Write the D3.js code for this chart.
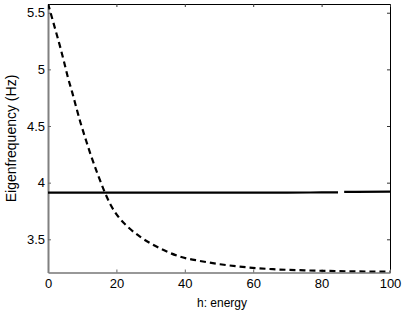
<!DOCTYPE html>
<html>
<head>
<meta charset="utf-8">
<script src="https://cdn.jsdelivr.net/npm/d3@7"></script>
<style>
  html, body { margin: 0; padding: 0; background: #fff; }
  svg { display: block; }
  text { font-family: "Liberation Sans", Arial, Helvetica, sans-serif; }
</style>
</head>
<body>
<svg id="chart" width="407" height="311"></svg>
<script>
// ---- data ----
const xTicks = [0, 20, 40, 60, 80, 100];
const yTicks = [3.5, 4, 4.5, 5, 5.5];
const yTickLabels = ["3.5", "4", "4.5", "5", "5.5"];
const xLabel = "h: energy";
const yLabel = "Eigenfrequency (Hz)";

// dashed curve (h, frequency)
const dashedH = [0, 2.25, 3.5, 4.7, 5.85, 7.1, 8.3, 9.55, 11, 12.5, 14.4, 16.4, 18.3, 20.8, 23.7, 26.9, 32.7, 38.6, 44.4, 50.3, 58.1, 65.8, 75, 85, 100];
const dashedF = [5.58, 5.34, 5.205, 5.065, 4.925, 4.795, 4.66, 4.525, 4.385, 4.245, 4.085, 3.93, 3.805, 3.69, 3.6, 3.523, 3.421, 3.347, 3.309, 3.28, 3.253, 3.236, 3.226, 3.219, 3.214];

// solid line (h, frequency); null = gap
const solidH = [0, 20, 40, 60, 70, 80, 84.8, 85.6, 86.6, 90, 100];
const solidF = [3.912, 3.912, 3.912, 3.912, 3.912, 3.914, 3.915, null, 3.918, 3.919, 3.921];

// ---- layout ----
const svg = d3.select("#chart");
const L = 48, R = 390, T = 4, B = 272.5;
const x = d3.scaleLinear().domain([0, 100]).range([L, R]);
const y = d3.scaleLinear().domain([3.207, 5.577]).range([B, T]);

// clip
svg.append("clipPath").attr("id", "clip")
  .append("rect").attr("x", L).attr("y", T).attr("width", R - L).attr("height", B - T);

// frame: top & right
svg.append("line").attr("x1", L).attr("x2", R).attr("y1", T + 0.5).attr("y2", T + 0.5)
  .attr("stroke", "#000").attr("stroke-width", 1);
svg.append("line").attr("x1", R + 0.5).attr("x2", R + 0.5).attr("y1", T).attr("y2", B)
  .attr("stroke", "#000").attr("stroke-width", 1);

// bottom axis
const xAxis = d3.axisBottom(x).tickValues(xTicks).tickSizeInner(-3).tickSizeOuter(0).tickPadding(6)
  .tickFormat(d3.format("d"));
const gx = svg.append("g").attr("transform", `translate(0,${B})`).call(xAxis);
gx.select(".domain").attr("stroke", "#333").attr("stroke-width", 1.2);
gx.selectAll(".tick line").attr("stroke", "#666");
gx.selectAll("text").attr("font-size", 13).attr("fill", "#000")
  .attr("font-family", "'Liberation Sans', Arial, sans-serif");

// top mirrored ticks
const gxt = svg.append("g").attr("transform", `translate(0,${T})`)
  .call(d3.axisTop(x).tickValues(xTicks).tickSizeInner(-3).tickSizeOuter(0).tickFormat(""));
gxt.select(".domain").remove();
gxt.selectAll(".tick line").attr("stroke", "#333");

// left axis
const yAxis = d3.axisLeft(y).tickValues(yTicks).tickSizeInner(-3).tickSizeOuter(0).tickPadding(3)
  .tickFormat((d, i) => yTickLabels[i]);
const gy = svg.append("g").attr("transform", `translate(${L},0)`).call(yAxis);
gy.select(".domain").attr("stroke", "#808080").attr("stroke-width", 2);
gy.selectAll(".tick line").attr("stroke", "#666");
gy.selectAll("text").attr("font-size", 13).attr("fill", "#000")
  .attr("font-family", "'Liberation Sans', Arial, sans-serif");

// right mirrored ticks
const gyr = svg.append("g").attr("transform", `translate(${R},0)`)
  .call(d3.axisRight(y).tickValues(yTicks).tickSizeInner(-3).tickSizeOuter(0).tickFormat(""));
gyr.select(".domain").remove();
gyr.selectAll(".tick line").attr("stroke", "#333");

// lines
const plot = svg.append("g").attr("clip-path", "url(#clip)");

const dashedData = dashedH.map((h, i) => ({ h, f: dashedF[i] }));
const solidData = solidH.map((h, i) => ({ h, f: solidF[i] }));

const lineGen = d3.line()
  .defined(d => d.f !== null)
  .x(d => x(d.h)).y(d => y(d.f))
  .curve(d3.curveMonotoneX);

plot.append("path").datum(solidData)
  .attr("d", lineGen)
  .attr("fill", "none").attr("stroke", "#000").attr("stroke-width", 2.2);

plot.append("path").datum(dashedData)
  .attr("d", lineGen)
  .attr("fill", "none").attr("stroke", "#000").attr("stroke-width", 2.2)
  .attr("stroke-dasharray", "6,4");

// axis labels
svg.append("text").attr("x", 222).attr("y", 306.5)
  .attr("text-anchor", "middle").attr("font-size", 12).text(xLabel);
svg.append("text")
  .attr("transform", `translate(15.5,138.5) rotate(-90)`)
  .attr("text-anchor", "middle").attr("font-size", 14).text(yLabel);
</script>
</body>
</html>
